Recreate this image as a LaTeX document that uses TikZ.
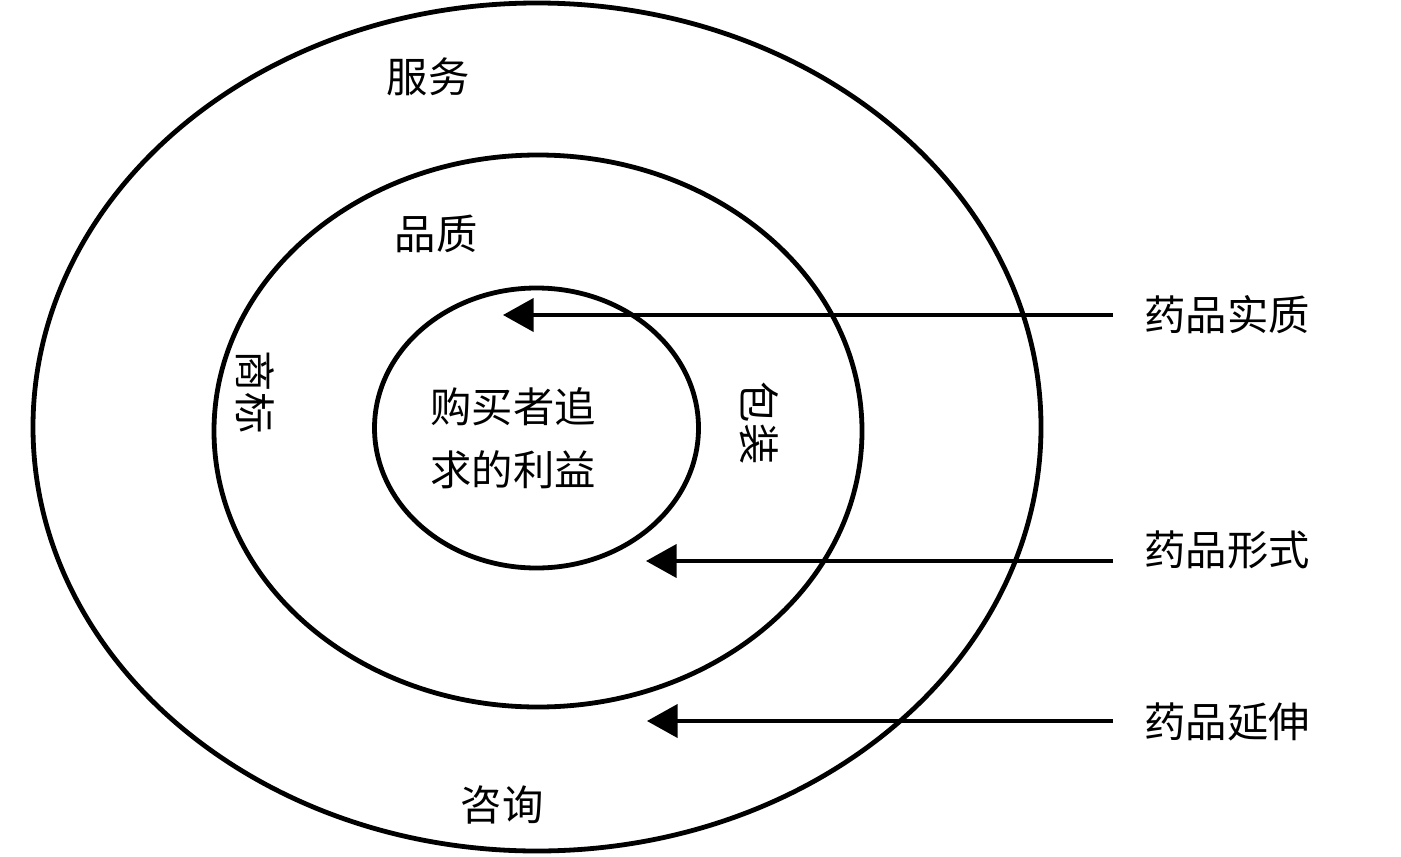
\documentclass[tikz,border=0pt]{standalone}
\usepackage{fontspec}
\newfontfamily\cjk{Noto Sans CJK SC}
\usetikzlibrary{arrows.meta}
\tikzset{
  ring/.style={draw=black, line width=3.6pt},
  lbl/.style={font=\cjk\fontsize{31pt}{47pt}\selectfont, inner sep=0pt, align=center},
  vlbl/.style={lbl, rotate=-90},
  pointer/.style={draw=black, line width=2.4pt, -{Triangle[length=23pt,width=25pt]}}
}
\begin{document}
\begin{tikzpicture}[x=0.75pt,y=-0.75pt]
\useasboundingbox (0,0) rectangle (1401,856);
% rings
\draw[ring] (537,427) ellipse [x radius=504, y radius=424];
\draw[ring] (538,431) ellipse [x radius=324, y radius=276];
\draw[ring] (536.5,428) ellipse [x radius=162, y radius=140];
% ring labels
\node[lbl] (fw) at (428,77) {服务};
\node[lbl] (pz) at (436,234) {品质};
\node[vlbl] (sb) at (255,392) {商标};
\node[vlbl] (bz) at (759,423) {包装};
\node[lbl] (core) at (513,438) {购买者追\\求的利益};
\node[lbl] (zx) at (502,805) {咨询};
% right labels
\node[lbl] (l1) at (1227,315) {药品实质};
\node[lbl] (l2) at (1227,550) {药品形式};
\node[lbl] (l3) at (1227,722) {药品延伸};
% arrows
\coordinate (s1) at (1113,315);
\coordinate (t1) at (503,315);
\coordinate (s2) at (1113,561);
\coordinate (t2) at (646,561);
\coordinate (s3) at (1113,721);
\coordinate (t3) at (647,721);
\draw[pointer] (s1) -- (t1);
\draw[pointer] (s2) -- (t2);
\draw[pointer] (s3) -- (t3);
\end{tikzpicture}
\end{document}
